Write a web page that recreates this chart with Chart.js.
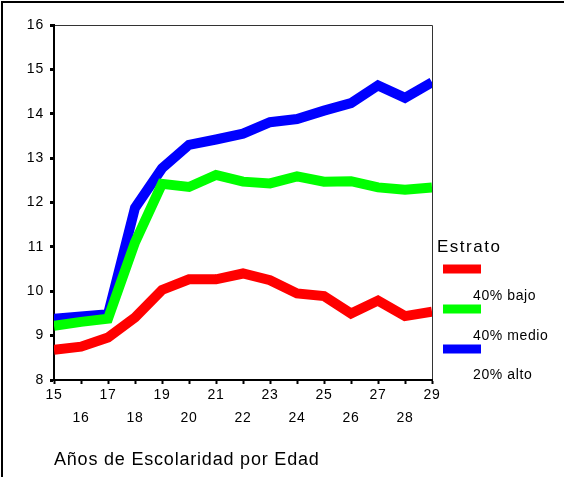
<!DOCTYPE html>
<html>
<head>
<meta charset="utf-8">
<script src="https://cdn.jsdelivr.net/npm/chart.js@4/dist/chart.umd.min.js"></script>
<style>
html,body{margin:0;padding:0;background:#fff;}
#wrap{width:564px;height:477px;position:relative;}
</style>
</head>
<body>
<div id="wrap"><canvas id="c" width="564" height="477"></canvas></div>
<script>
const ages = [15,16,17,18,19,20,21,22,23,24,25,26,27,28,29];
const bajo  = [8.68,8.75,8.96,9.41,10.03,10.27,10.27,10.40,10.25,9.95,9.89,9.50,9.79,9.44,9.54];
const medio = [9.22,9.31,9.38,11.10,12.42,12.35,12.62,12.47,12.43,12.59,12.47,12.48,12.34,12.29,12.34];
const alto  = [9.38,9.43,9.48,11.88,12.77,13.30,13.42,13.55,13.81,13.88,14.07,14.24,14.64,14.36,14.71];
const seriesNames = ['40% bajo','40% medio','20% alto'];
const seriesColors = ['#ff0000','#00ff00','#0000ff'];
const yTicks = [8,9,10,11,12,13,14,15,16];
const xTitle = 'Años de Escolaridad por Edad';
const legendTitle = 'Estrato';

const FONT = 'Arial, "Liberation Sans", sans-serif';

function pts(arr){ return arr.map((v,i)=>({x:ages[i], y:v})); }

const frame = {
  id:'frame',
  beforeDraw(chart){
    const ctx = chart.ctx;
    ctx.fillStyle = '#fff';
    ctx.fillRect(0,0,chart.width,chart.height);
    ctx.save();
    ctx.strokeStyle = '#000';
    ctx.lineWidth = 2;
    ctx.beginPath();
    ctx.moveTo(2, chart.height);
    ctx.lineTo(2, 2);
    ctx.lineTo(chart.width, 2);
    ctx.stroke();
    const a = chart.chartArea;
    ctx.lineWidth = 1;
    ctx.strokeStyle = '#333';
    ctx.beginPath();
    ctx.moveTo(a.left, a.top + 0.5);
    ctx.lineTo(a.right + 0.5, a.top + 0.5);
    ctx.lineTo(a.right + 0.5, a.bottom);
    ctx.stroke();
    ctx.restore();
    ctx.letterSpacing = '0.8px';
  },
  afterDraw(chart){
    const ctx = chart.ctx;
    ctx.save();
    ctx.fillStyle = '#000';
    ctx.textBaseline = 'middle';
    ctx.textAlign = 'left';
    ctx.letterSpacing = '1.5px';
    ctx.font = '17px ' + FONT;
    ctx.fillText(legendTitle, 437, 247);
    const swY = [269, 309, 349];
    const lbY = [296, 336, 375];
    ctx.letterSpacing = '0.6px';
    chart.data.datasets.forEach((ds, i) => {
      ctx.fillStyle = ds.borderColor;
      ctx.fillRect(443, swY[i] - 4.5, 38, 9);
      ctx.fillStyle = '#000';
      ctx.font = '14px ' + FONT;
      ctx.fillText(ds.label, 473, lbY[i]);
    });
    ctx.restore();
  }
};

new Chart(document.getElementById('c'), {
  type: 'line',
  data: {
    datasets: [
      {label: seriesNames[0], data: pts(bajo),  borderColor: seriesColors[0]},
      {label: seriesNames[1], data: pts(medio), borderColor: seriesColors[1]},
      {label: seriesNames[2], data: pts(alto),  borderColor: seriesColors[2]}
    ].map(d => Object.assign(d, {
      borderWidth: 10, pointRadius: 0, tension: 0, fill: false,
      borderJoinStyle: 'miter', borderCapStyle: 'butt', backgroundColor: d.borderColor
    }))
  },
  options: {
    responsive: false,
    animation: false,
    layout: {padding: {left: 0, top: 25, right: 132, bottom: 0}},
    plugins: {legend: {display: false}, tooltip: {enabled: false}},
    scales: {
      x: {
        type: 'linear', min: 15, max: 29,
        afterFit(s){ s.height = 97; },
        afterBuildTicks(s){ s.ticks = ages.map(v => ({value: v})); },
        grid: {drawOnChartArea: false, drawTicks: true, tickLength: 4, tickWidth: 2, tickColor: '#000'},
        border: {display: true, color: '#000', width: 2},
        ticks: {
          autoSkip: false, maxRotation: 0, padding: 0,
          color: '#000',
          font: {family: FONT, size: 14, lineHeight: 1.64},
          callback: (v) => (v % 2 === 1) ? [String(v), ''] : ['', String(v)]
        },
        title: {
          display: true, text: xTitle, align: 'start', color: '#000',
          font: {family: FONT, size: 18}, padding: {top: 0, bottom: 6}
        }
      },
      y: {
        min: 8, max: 16,
        afterFit(s){ s.width = 54; },
        afterBuildTicks(s){ s.ticks = yTicks.map(v => ({value: v})); },
        grid: {drawOnChartArea: false, drawTicks: true, tickLength: 4, tickWidth: 3, tickColor: '#000'},
        border: {display: true, color: '#000', width: 2},
        ticks: {color: '#000', padding: 6, font: {family: FONT, size: 14}}
      }
    }
  },
  plugins: [frame]
});
</script>
</body>
</html>
